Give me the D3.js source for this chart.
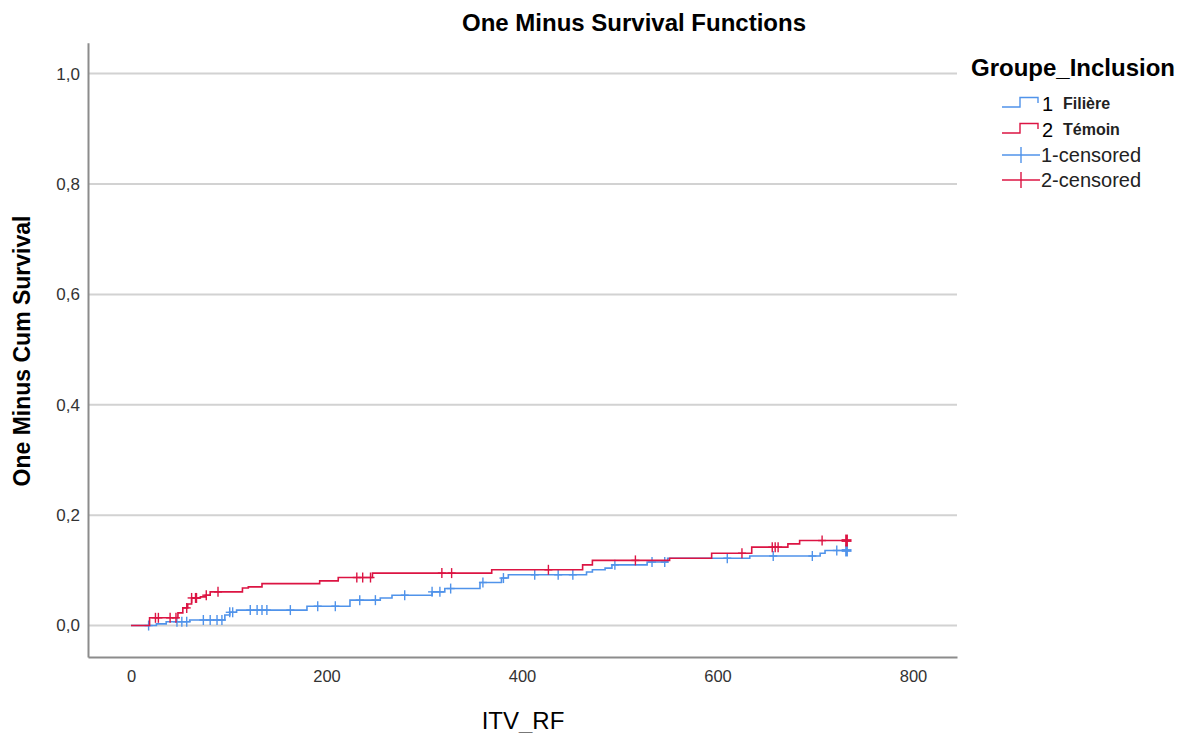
<!DOCTYPE html>
<html>
<head>
<meta charset="utf-8">
<script src="https://cdn.jsdelivr.net/npm/d3@7"></script>
<style>
  body { margin: 0; background: #fff; }
  text { font-family: Arial, "Liberation Sans", sans-serif; }
</style>
</head>
<body>
<svg id="vis_km" width="1185" height="733"></svg>
<script>
// chart data
var title = "One Minus Survival Functions"
var xLabel = "ITV_RF"
var yLabel = "One Minus Cum Survival"
var legendTitle = "Groupe_Inclusion"
var xTicks = [0, 200, 400, 600, 800]
var yTicks = [0, 0.2, 0.4, 0.6, 0.8, 1.0]

// group 1 Filière : [time, one minus survival]
var filiereSteps = [
  [0, 0], [26, 0.003], [36, 0.007], [60, 0.010], [96, 0.019], [101, 0.024],
  [108, 0.028], [180, 0.035], [224, 0.046], [255, 0.050], [267, 0.055],
  [308, 0.061], [321, 0.067], [357, 0.078], [379, 0.086], [386, 0.092],
  [466, 0.097], [472, 0.101], [485, 0.104], [492, 0.110], [528, 0.115],
  [549, 0.122], [633, 0.126], [705, 0.131], [710, 0.136], [732, 0.136]
]
var filiereCensored = [18, 47, 52, 57, 74, 81, 88, 93, 101, 104, 122, 129, 134, 139,
  163, 191, 209, 234, 250, 280, 308, 316, 327, 360, 381, 413, 437, 452, 495,
  533, 546, 610, 657, 697, 722, 732, 732, 732]

// group 2 Témoin
var temoinSteps = [
  [0, 0], [19, 0.014], [48, 0.023], [53, 0.032], [58, 0.039], [62, 0.050],
  [71, 0.052], [76, 0.055], [81, 0.061], [114, 0.068], [120, 0.070],
  [134, 0.076], [193, 0.081], [212, 0.087], [247, 0.095], [369, 0.101],
  [462, 0.110], [472, 0.118], [551, 0.122], [594, 0.131], [635, 0.142],
  [672, 0.148], [684, 0.154], [732, 0.154]
]
var temoinCensored = [25, 28, 40, 46, 57, 62, 66, 67, 77, 89, 231, 237, 245,
  318, 328, 427, 516, 625, 656, 659, 662, 707, 732, 732, 732]

var series = [
  {id: "1", name: "Filière", color: "#5093ea", steps: filiereSteps, censored: filiereCensored},
  {id: "2", name: "Témoin", color: "#dc1443", steps: temoinSteps, censored: temoinCensored}
]

var svg = d3.select("#vis_km")

var x = d3.scaleLinear().domain([-44, 845]).range([88, 957])
var y = d3.scaleLinear().domain([-0.057, 1.056]).range([657, 42.7])

var comma = d3.formatLocale({decimal: ",", thousands: ".", grouping: [3], currency: ["", ""]}).format(".1f")

// grid lines
svg.append("g").selectAll("line")
  .data(yTicks)
  .join("line")
  .attr("x1", x.range()[0]).attr("x2", x.range()[1])
  .attr("y1", d => y(d)).attr("y2", d => y(d))
  .style("stroke", "#d2d2d2")
  .style("stroke-width", 2)

// axes (no tick marks, just line + labels)
var yAxis = svg.append("g")
  .attr("transform", "translate(" + x.range()[0] + ",0)")
  .call(d3.axisLeft(y).tickValues(yTicks).tickFormat(comma).tickSize(0).tickPadding(8))
yAxis.select(".domain").style("stroke", "#8c8c8c").style("stroke-width", 2)
yAxis.selectAll("text").style("font-size", "17px").style("fill", "#333").style("font-family", "Arial, 'Liberation Sans', sans-serif")

var xAxis = svg.append("g")
  .attr("transform", "translate(0," + y.range()[0] + ")")
  .call(d3.axisBottom(x).tickValues(xTicks).tickFormat(d3.format("d")).tickSize(0).tickPadding(13))
xAxis.select(".domain").style("stroke", "#8c8c8c").style("stroke-width", 2)
xAxis.selectAll("text").style("font-size", "16.5px").style("fill", "#333").style("font-family", "Arial, 'Liberation Sans', sans-serif")

// titles
svg.append("text")
  .attr("x", 634).attr("y", 31)
  .attr("text-anchor", "middle")
  .style("font-size", "24px").style("font-weight", "bold")
  .text(title)

svg.append("text")
  .attr("x", 523).attr("y", 729)
  .attr("text-anchor", "middle")
  .style("font-size", "24px")
  .text(xLabel)

svg.append("text")
  .attr("transform", "translate(30,351) rotate(-90)")
  .attr("text-anchor", "middle")
  .style("font-size", "23px").style("font-weight", "bold")
  .text(yLabel)

// step curves
var line = d3.line()
  .x(d => x(d[0]))
  .y(d => y(d[1]))
  .curve(d3.curveStepAfter)

var valueAt = function(steps, t) {
  var i = d3.bisector(d => d[0]).right(steps, t) - 1
  return steps[Math.max(0, i)][1]
}

series.forEach(function(s) {
  svg.append("path")
    .datum(s.steps)
    .attr("d", line)
    .style("fill", "none")
    .style("stroke", s.color)
    .style("stroke-width", 1.6)

  var counts = d3.rollups(s.censored, v => v.length, d => d)
  var g = svg.append("g").style("stroke", s.color)
  counts.forEach(function(c) {
    var cx = x(c[0]), cy = y(valueAt(s.steps, c[0]))
    var k = c[1] > 1 ? 6 : 5
    var w = c[1] > 1 ? 2.8 : 1.4
    g.append("line").attr("x1", cx).attr("x2", cx).attr("y1", cy - k).attr("y2", cy + k).style("stroke-width", w)
    g.append("line").attr("x1", cx - k + 1).attr("x2", cx + k - 1).attr("y1", cy).attr("y2", cy).style("stroke-width", w)
  })
})

// legend
var lg = svg.append("g")
lg.append("text")
  .attr("x", 971).attr("y", 76)
  .style("font-size", "24px").style("font-weight", "bold")
  .text(legendTitle)

var rows = [103, 129, 155, 180]
series.forEach(function(s, i) {
  var ry = rows[i]
  lg.append("path")
    .attr("d", "M1002," + (ry + 4) + "H1020V" + (ry - 5.5) + "H1038V" + ry)
    .style("fill", "none").style("stroke", s.color).style("stroke-width", 1.4)
  lg.append("text")
    .attr("x", 1042).attr("y", ry + 8)
    .style("font-size", "20px")
    .text(s.id)
  lg.append("text")
    .attr("x", 1063).attr("y", ry + 6)
    .style("font-size", "16px").style("font-weight", "bold").style("fill", "#222")
    .text(s.name)
})
series.forEach(function(s, i) {
  var ry = rows[i + 2]
  lg.append("line").attr("x1", 1002).attr("x2", 1040).attr("y1", ry).attr("y2", ry)
    .style("stroke", s.color).style("stroke-width", 1.4)
  lg.append("line").attr("x1", 1021).attr("x2", 1021).attr("y1", ry - 8).attr("y2", ry + 8)
    .style("stroke", s.color).style("stroke-width", 1.4)
  lg.append("text")
    .attr("x", 1041).attr("y", ry + 7)
    .style("font-size", "20px").style("fill", "#222")
    .text(s.id + "-censored")
})
</script>
</body>
</html>
